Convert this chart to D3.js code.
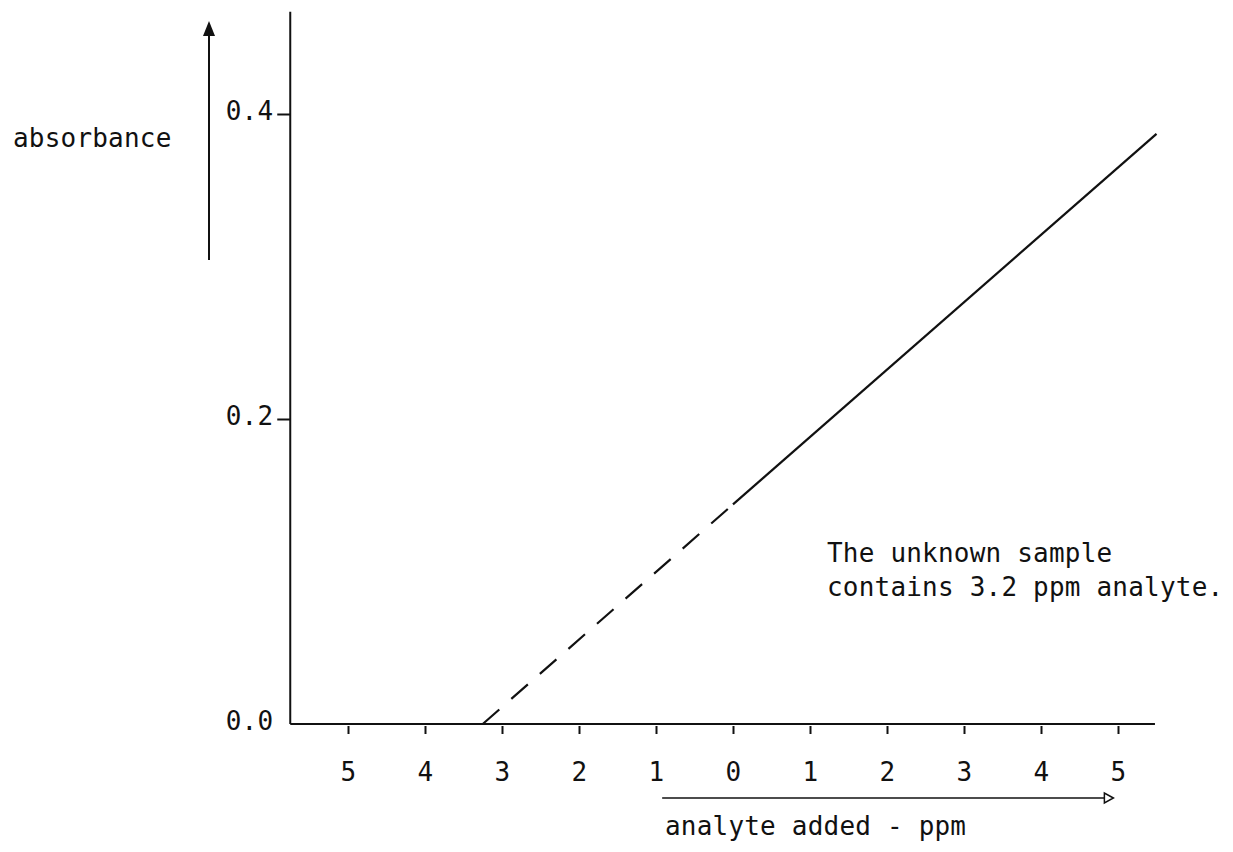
<!DOCTYPE html>
<html>
<meta charset="utf-8">
<title>Standard addition plot</title>
<style>
	body {
		margin: 0;
		background-color: #ffffff;
	}
	text, .tick text {
		font-family: "DejaVu Sans Mono", monospace;
		font-size: 26px;
		letter-spacing: 0.2px;
		fill: #111111;
	}
	.axis line, .axis path {
		stroke: #111111;
		stroke-width: 2;
	}
</style>
<body>
<div id="chart"></div>
<script src="https://cdn.jsdelivr.net/npm/d3@7"></script>
<script>

	// Values
	var xTicks = [-5, -4, -3, -2, -1, 0, 1, 2, 3, 4, 5];
	var yTicks = [0.0, 0.2, 0.4];
	var extrapX = [-3.25, 0];          // dashed part, back to the x intercept
	var extrapY = [0.0, 0.144];
	var measuredX = [0, 5.5];          // solid part, standard additions
	var measuredY = [0.144, 0.387];
	var noteLines = ["The unknown sample", "contains 3.2 ppm analyte."];

	var width = 1233, height = 852;

	var svg = d3.select("#chart").append("svg")
		.attr("width", width)
		.attr("height", height);

	// Scales (pixel ranges fitted to the scanned page)
	var x = d3.scaleLinear().domain([-5, 5]).range([348, 1118]);
	var y = d3.scaleLinear().domain([0, 0.4]).range([724, 114]);

	var ink = "#111111";

	// Y axis line and ticks
	svg.append("line")
		.attr("x1", x(-5.75)).attr("x2", x(-5.75))
		.attr("y1", y(0)).attr("y2", y(0.467))
		.attr("stroke", ink).attr("stroke-width", 2);

	var yAxis = d3.axisLeft(y)
		.tickValues(yTicks)
		.tickSize(13)
		.tickPadding(4)
		.tickFormat(d3.format(".1f"));

	var gy = svg.append("g")
		.attr("class", "axis")
		.attr("transform", "translate(" + x(-5.75) + ",0)")
		.call(yAxis);
	gy.select(".domain").remove();
	gy.selectAll(".tick").filter(function (d) { return d === 0; }).select("line").remove();
	gy.selectAll(".tick text").attr("dy", "0.2em");

	// X axis baseline and ticks
	svg.append("line")
		.attr("x1", x(-5.75)).attr("x2", x(5.48))
		.attr("y1", y(0)).attr("y2", y(0))
		.attr("stroke", ink).attr("stroke-width", 2);

	var xAxis = d3.axisBottom(x)
		.tickValues(xTicks)
		.tickSize(8)
		.tickPadding(29)
		.tickFormat(function (d) { return Math.abs(d); });

	var gx = svg.append("g")
		.attr("class", "axis")
		.attr("transform", "translate(0," + (y(0) + 2) + ")")
		.call(xAxis);
	gx.select(".domain").remove();
	gx.selectAll(".tick line").attr("stroke-width", 1.5);

	// Regression line: dashed extrapolation, solid measured part
	var line = d3.line()
		.x(function (d) { return x(d[0]); })
		.y(function (d) { return y(d[1]); });

	svg.append("path")
		.datum(d3.zip(extrapX, extrapY))
		.attr("d", line)
		.attr("fill", "none")
		.attr("stroke", ink)
		.attr("stroke-width", 2.2)
		.attr("stroke-dasharray", "22,16");

	svg.append("path")
		.datum(d3.zip(measuredX, measuredY))
		.attr("d", line)
		.attr("fill", "none")
		.attr("stroke", ink)
		.attr("stroke-width", 2.2);

	// Absorbance arrow and label
	var ax = 209;
	svg.append("line")
		.attr("x1", ax).attr("x2", ax)
		.attr("y1", 260).attr("y2", 34)
		.attr("stroke", ink).attr("stroke-width", 2);
	svg.append("path")
		.attr("d", "M" + ax + ",21 L" + (ax - 6) + ",36 L" + (ax + 6) + ",36 Z")
		.attr("fill", ink);
	svg.append("text")
		.attr("x", 13)
		.attr("y", 147)
		.text("absorbance");

	// Analyte added arrow and label
	var arrowY = 798;
	svg.append("line")
		.attr("x1", x(-0.92)).attr("x2", x(4.85))
		.attr("y1", arrowY).attr("y2", arrowY)
		.attr("stroke", ink).attr("stroke-width", 1.5);
	svg.append("path")
		.attr("d", "M" + x(4.94) + "," + arrowY + " L" + (x(4.94) - 9) + "," + (arrowY - 5) +
			" L" + (x(4.94) - 9) + "," + (arrowY + 5) + " Z")
		.attr("fill", "#ffffff")
		.attr("stroke", ink)
		.attr("stroke-width", 1.5);
	svg.append("text")
		.attr("x", 665)
		.attr("y", 835)
		.text("analyte added - ppm");

	// Note
	svg.selectAll(".note")
		.data(noteLines)
		.enter().append("text")
		.attr("class", "note")
		.attr("x", 827)
		.attr("y", function (d, i) { return 562 + i * 34; })
		.text(function (d) { return d; });

</script>
</body>
</html>
